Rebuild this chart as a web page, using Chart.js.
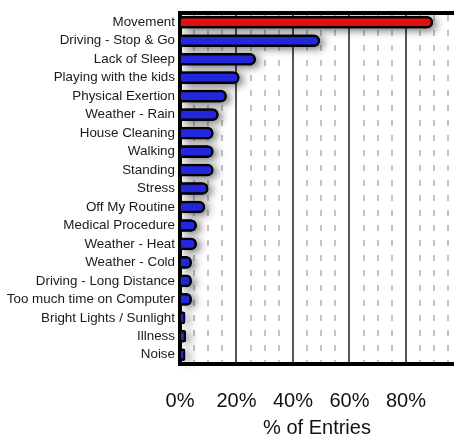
<!DOCTYPE html>
<html>
<head>
<meta charset="utf-8">
<script src="https://cdn.jsdelivr.net/npm/chart.js@4.4.1/dist/chart.umd.min.js"></script>
<style>
  html, body { margin: 0; padding: 0; background: #fff; }
  canvas { display: block; }
</style>
</head>
<body>
<canvas id="chart" width="454" height="438"></canvas>
<script>
// datos
const triggers = [
  'Movement', 'Driving - Stop & Go', 'Lack of Sleep', 'Playing with the kids',
  'Physical Exertion', 'Weather - Rain', 'House Cleaning', 'Walking', 'Standing',
  'Stress', 'Off My Routine', 'Medical Procedure', 'Weather - Heat', 'Weather - Cold',
  'Driving - Long Distance', 'Too much time on Computer', 'Bright Lights / Sunlight',
  'Illness', 'Noise'
];
const pctEntries = [
  89.5, 49.5, 26.8, 21, 16.5, 13.6, 11.8, 11.8, 11.8,
  10, 8.8, 5.9, 5.9, 4.1, 4.1, 4.1, 1.8, 2.1, 1.8
];
const axisTitle = '% of Entries';

const FONT = '"Liberation Sans", Arial, sans-serif';

// sombra detras de las barras
const barShadow = {
  id: 'barShadow',
  beforeDatasetsDraw(chart) {
    const ctx = chart.ctx;
    const meta = chart.getDatasetMeta(0);
    ctx.save();
    ctx.shadowColor = 'rgba(0,0,0,0.6)';
    ctx.shadowBlur = 8;
    ctx.shadowOffsetX = 4;
    ctx.shadowOffsetY = 2;
    ctx.fillStyle = '#000';
    meta.data.forEach(el => {
      const p = el.getProps(['x', 'y', 'base', 'height'], true);
      const left = Math.min(p.base, p.x);
      const w = Math.abs(p.x - p.base);
      const h = p.height;
      const r = Math.min(h / 2, w / 2);
      ctx.beginPath();
      ctx.roundRect(left, p.y - h / 2, w, h, [0, r, r, 0]);
      ctx.fill();
    });
    ctx.restore();
  }
};

// degradado vertical suave en cada barra
const barFill = c => {
  const el = c.element;
  const base = c.dataIndex === 0 ? ['#f43a3a', '#e01010', '#c80c0c'] : ['#3c46f0', '#2226dc', '#1a1cc0'];
  if (!el || el.y === undefined || !isFinite(el.y)) return base[1];
  const h = 12;
  const g = c.chart.ctx.createLinearGradient(0, el.y - h / 2, 0, el.y + h / 2);
  g.addColorStop(0, base[0]);
  g.addColorStop(0.5, base[1]);
  g.addColorStop(1, base[2]);
  return g;
};

new Chart(document.getElementById('chart').getContext('2d'), {
  type: 'bar',
  data: {
    labels: triggers,
    datasets: [{
      data: pctEntries,
      backgroundColor: barFill,
      borderColor: '#000',
      borderWidth: 2.5,
      borderSkipped: 'start',
      borderRadius: 20,
      barThickness: 12
    }]
  },
  options: {
    indexAxis: 'y',
    responsive: false,
    animation: false,
    layout: { padding: { top: 12, right: 0, left: 0, bottom: 0 } },
    plugins: { legend: { display: false }, tooltip: { enabled: false } },
    scales: {
      x: {
        position: 'bottom',
        min: 0,
        max: 97,
        ticks: {
          stepSize: 20,
          includeBounds: false,
          maxRotation: 0,
          padding: 27,
          color: '#111',
          font: { family: FONT, size: 20, lineHeight: 1 },
          callback: v => v + '%'
        },
        grid: {
          drawTicks: false,
          lineWidth: 2,
          color: c => (c.tick && c.tick.value > 0 && c.tick.value % 20 === 0) ? '#555' : 'rgba(0,0,0,0)'
        },
        border: { display: true, color: '#000', width: 4 },
        title: {
          display: true,
          text: axisTitle,
          color: '#111',
          font: { family: FONT, size: 20, lineHeight: 1 },
          padding: { top: 8, bottom: 0 }
        },
        afterFit: s => { s.height = 74; }
      },
      xMinor: {
        type: 'linear',
        position: 'top',
        axis: 'x',
        min: 0,
        max: 97,
        ticks: { display: false, stepSize: 5, includeBounds: false },
        grid: {
          drawTicks: false,
          lineWidth: 2,
          color: c => (c.tick && c.tick.value % 20 !== 0) ? '#c4c4c4' : 'rgba(0,0,0,0)'
        },
        border: { display: true, color: '#000', width: 4, dash: [6, 9] },
        afterFit: s => { s.height = 0; }
      },
      y: {
        grid: { display: false, drawTicks: false },
        border: { display: true, color: '#000', width: 4 },
        ticks: {
          autoSkip: false,
          padding: 5,
          color: '#1a1a1a',
          font: { family: FONT, size: 13.4 }
        },
        afterFit: s => { s.width = 180; }
      }
    }
  },
  plugins: [barShadow]
});
</script>
</body>
</html>
